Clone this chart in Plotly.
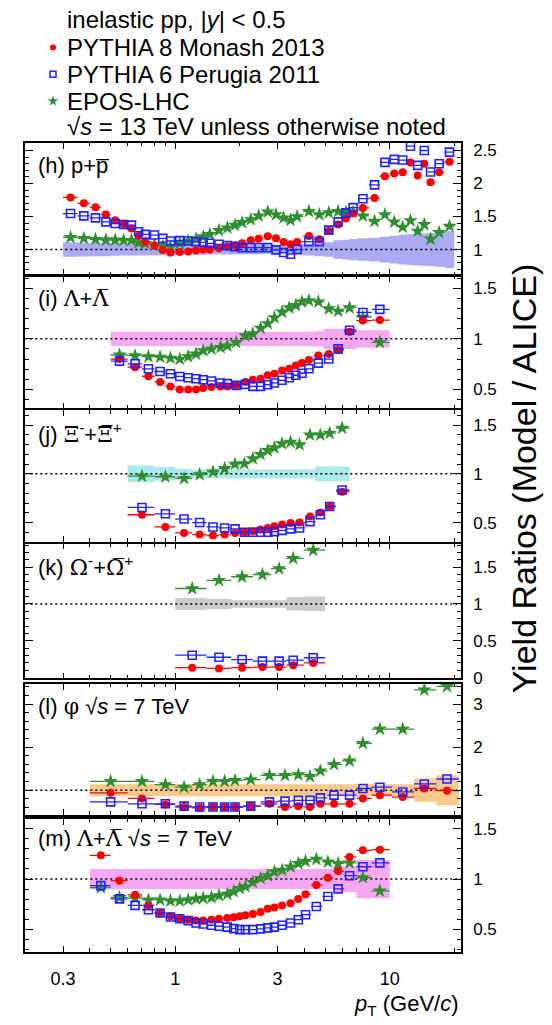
import math
import plotly.graph_objects as go

# ---------------------------------------------------------------
# Model / ALICE yield ratios versus pT
# ---------------------------------------------------------------

# (h) p + pbar, 13 TeV
pt_h = [0.325, 0.375, 0.425, 0.475, 0.525, 0.575, 0.625, 0.675, 0.725, 0.8,
        0.875, 0.95, 1.05, 1.15, 1.25, 1.35, 1.45, 1.6, 1.75, 1.9,
        2.05, 2.25, 2.45, 2.7, 2.95, 3.2, 3.45, 3.7, 4.2, 4.7,
        5.2, 5.75, 6.25, 6.75, 7.5, 8.5, 9.5, 10.5, 11.5, 12.5,
        13.5, 14.5, 15.5, 17.0, 19.0]
span_h = (0.3, 20.0)
p8_h = [1.79, 1.70, 1.64, 1.53, 1.445, 1.385, 1.32, 1.205, 1.12, 1.06,
        0.995, 0.955, 0.965, 0.97, 0.985, 1.0, 1.0, 1.02, 1.045, 1.065,
        1.095, 1.14, 1.165, 1.20, 1.17, 1.115, 1.08, 1.115, 1.205, 1.155,
        1.28, 1.38, 1.47, 1.545, 1.63, 1.78, 2.11, 2.15, 2.17, 2.32,
        2.12, 2.30, 2.02, 2.17, 2.33]
p6_h = [1.545, 1.51, 1.48, 1.42, 1.395, 1.38, 1.37, 1.27, 1.23, 1.22,
        1.17, 1.13, 1.135, 1.13, 1.12, 1.11, 1.095, 1.08, 1.06, 1.045,
        1.03, 1.03, 1.03, 1.03, 0.995, 0.955, 0.93, 1.0, 1.12, 1.12,
        1.295, 1.42, 1.555, 1.635, 1.77, 1.98, 2.32, 2.365, 2.355, 2.565,
        2.275, 2.50, 2.175, 2.30, 2.475]
epos_h = [1.185, 1.17, 1.155, 1.145, 1.145, 1.14, 1.14, 1.105, 1.095, 1.07,
          1.055, 1.045, 1.095, 1.13, 1.16, 1.195, 1.23, 1.29, 1.33, 1.37,
          1.41, 1.455, 1.51, 1.57, 1.53, 1.48, 1.445, 1.50, 1.58, 1.53,
          1.56, 1.58, 1.57, 1.57, 1.51, 1.43, 1.53, 1.42, 1.34, 1.44,
          1.28, 1.38, 1.16, 1.26, 1.355]
sys_h = [0.11, 0.105, 0.10, 0.10, 0.095, 0.09, 0.09, 0.09, 0.09, 0.085,
         0.085, 0.085, 0.08, 0.08, 0.08, 0.08, 0.075, 0.075, 0.075, 0.07,
         0.07, 0.07, 0.07, 0.065, 0.065, 0.065, 0.07, 0.08, 0.09, 0.10,
         0.11, 0.14, 0.15, 0.16, 0.17, 0.18, 0.195, 0.21, 0.225, 0.235,
         0.24, 0.245, 0.25, 0.26, 0.28]

# (i) Lambda + anti-Lambda, 13 TeV
pt_i = [0.55, 0.65, 0.75, 0.85, 0.95, 1.05, 1.15, 1.25, 1.35, 1.475,
        1.625, 1.75, 1.925, 2.125, 2.3, 2.5, 2.7, 2.9, 3.15, 3.4,
        3.65, 3.9, 4.2, 4.65, 5.2, 5.75, 6.5, 7.5, 9.0]
span_i = (0.5, 10.0)
p8_i = [0.80, 0.72, 0.63, 0.574, 0.53, 0.50, 0.50, 0.50, 0.515, 0.525,
        0.53, 0.53, 0.54, 0.574, 0.596, 0.606, 0.64, 0.655, 0.687, 0.704,
        0.736, 0.76, 0.79, 0.834, 0.85, 0.89, 1.07, 1.18, 1.185]
p6_i = [0.78, 0.753, 0.704, 0.677, 0.655, 0.628, 0.616, 0.606, 0.596, 0.584,
        0.564, 0.557, 0.54, 0.55, 0.53, 0.53, 0.547, 0.564, 0.59, 0.616,
        0.64, 0.66, 0.704, 0.76, 0.80, 0.90, 1.085, 1.26, 1.29]
epos_i = [0.84, 0.834, 0.825, 0.82, 0.81, 0.80, 0.825, 0.85, 0.883, 0.90,
          0.916, 0.93, 0.965, 1.03, 1.05, 1.105, 1.15, 1.21, 1.265, 1.307,
          1.33, 1.365, 1.378, 1.365, 1.297, 1.274, 1.307, 1.215, 0.965]
sys_i = [0.07] * 23 + [0.075, 0.10, 0.10, 0.10, 0.085, 0.085]

# (j) Xi- + anti-Xi+, 13 TeV
pt_j = [0.7, 0.9, 1.1, 1.3, 1.5, 1.7, 1.9, 2.1, 2.3, 2.5,
        2.7, 2.9, 3.15, 3.45, 3.8, 4.25, 4.75, 5.25, 6.0]
span_j = (0.6, 6.5)
p8_j = [0.58, 0.455, 0.394, 0.377, 0.367, 0.377, 0.394, 0.40, 0.41, 0.428,
        0.445, 0.461, 0.479, 0.496, 0.50, 0.563, 0.604, 0.665, 0.817]
p6_j = [0.655, 0.59, 0.536, 0.50, 0.455, 0.445, 0.435, 0.40, 0.40, 0.40,
        0.40, 0.407, 0.42, 0.435, 0.445, 0.51, 0.58, 0.665, 0.834]
epos_j = [0.977, 0.97, 0.953, 0.993, 1.02, 1.055, 1.10, 1.105, 1.156, 1.20,
          1.24, 1.268, 1.31, 1.325, 1.30, 1.40, 1.40, 1.417, 1.47]
sys_j = [0.085, 0.07, 0.05, 0.045, 0.045, 0.045, 0.045, 0.045, 0.045, 0.045,
         0.045, 0.045, 0.045, 0.045, 0.045, 0.045, 0.075, 0.075, 0.075]

# (k) Omega- + anti-Omega+, 13 TeV
pt_k = [1.2, 1.6, 2.05, 2.55, 3.05, 3.55, 4.4]
span_k = (1.0, 5.0)
p8_k = [0.135, 0.125, 0.135, 0.143, 0.143, 0.17, 0.20]
p6_k = [0.305, 0.277, 0.246, 0.224, 0.224, 0.237, 0.27]
epos_k = [1.21, 1.32, 1.37, 1.40, 1.48, 1.62, 1.73]
sys_k = [0.08, 0.07, 0.05, 0.05, 0.05, 0.09, 0.10]

# (l) phi, 7 TeV
pt_l = [0.5, 0.7, 0.9, 1.1, 1.3, 1.5, 1.7, 1.9, 2.25, 2.75,
        3.25, 3.75, 4.25, 4.75, 5.5, 6.5, 7.5, 9.0, 11.5, 14.5, 18.5]
span_l = (0.4, 21.0)
p8_l = [0.94, 0.81, 0.67, 0.61, 0.59, 0.61, 0.61, 0.61, 0.63, 0.685,
        0.61, 0.63, 0.61, 0.685, 0.685, 0.685, 0.81, 0.885, 0.84, 1.04, 0.99]
p6_l = [0.73, 0.685, 0.685, 0.63, 0.61, 0.61, 0.61, 0.61, 0.63, 0.73,
        0.747, 0.763, 0.763, 0.823, 0.885, 0.885, 1.04, 1.07, 0.96, 1.145, 1.26]
epos_l = [1.207, 1.207, 1.13, 1.07, 1.13, 1.207, 1.207, 1.23, 1.246, 1.345,
          1.345, 1.36, 1.32, 1.45, 1.60, 1.68, 2.09, 2.42, 2.42, 3.33, 3.41]
sys_l = [0.14] * 19 + [0.27, 0.35]

# (m) Lambda + anti-Lambda, 7 TeV
pt_m = [0.45, 0.55, 0.65, 0.75, 0.85, 0.95, 1.05, 1.15, 1.25, 1.35,
        1.475, 1.6, 1.75, 1.875, 2.0, 2.125, 2.3, 2.5, 2.7, 2.9,
        3.15, 3.45, 3.75, 4.05, 4.55, 5.15, 5.75, 6.5, 7.5, 9.0]
span_m = (0.4, 10.0)
p8_m = [1.236, 0.984, 0.843, 0.738, 0.662, 0.63, 0.606, 0.596, 0.587, 0.587,
        0.596, 0.606, 0.613, 0.62, 0.63, 0.64, 0.652, 0.672, 0.705, 0.718,
        0.738, 0.76, 0.803, 0.85, 0.94, 1.014, 1.079, 1.22, 1.285, 1.292]
p6_m = [0.935, 0.803, 0.738, 0.695, 0.662, 0.623, 0.606, 0.587, 0.564, 0.554,
        0.541, 0.531, 0.522, 0.508, 0.498, 0.498, 0.498, 0.505, 0.515, 0.522,
        0.541, 0.564, 0.596, 0.646, 0.728, 0.827, 0.902, 1.033, 1.122, 1.161]
epos_m = [0.915, 0.817, 0.81, 0.793, 0.793, 0.783, 0.783, 0.793, 0.803, 0.81,
          0.817, 0.836, 0.85, 0.876, 0.908, 0.925, 0.968, 1.007, 1.033, 1.073,
          1.089, 1.122, 1.155, 1.177, 1.197, 1.171, 1.155, 1.161, 1.014, 0.882]
sys_m = [0.1] * 26 + [0.13, 0.13, 0.19, 0.19]

# axis ticks / ranges
x_tick_vals = [0.3, 1, 3, 10]
x_minor_vals = [0.2, 0.4, 0.5, 0.6, 0.7, 0.8, 0.9, 2, 4, 5, 6, 7, 8, 9, 20]
x_span = (0.2, 21.5)

# ---------------------------------------------------------------
# layout constants (pixels)
# ---------------------------------------------------------------
FIG_W, FIG_H = 552, 1025
FRAME_L, FRAME_R = 25.3, 461.0
PANEL_PX = [(143.3, 276.5), (277.5, 411.5), (413.5, 546.0),
            (548.0, 684.0), (689.5, 821.7), (826.0, 960.0)]
Y_RANGES = [(0.618, 2.615), (0.312, 1.622), (0.304, 1.650),
            (-0.009, 1.819), (0.432, 3.471), (0.279, 1.597)]
Y_MAJOR = [[1, 1.5, 2, 2.5], [0.5, 1, 1.5], [0.5, 1, 1.5],
           [0, 0.5, 1, 1.5], [1, 2, 3], [0.5, 1, 1.5]]
Y_MINOR = [0.1, 0.1, 0.1, 0.1, 0.2, 0.1]

SANS = "Liberation Sans, Arial, sans-serif"
GREEK = "DejaVu Serif, Liberation Serif, serif"

C_P8 = "#ff0000"
C_P6 = "#2222ff"
C_EPOS = "#2f8f2f"


def gk(s):
    return '<span style="font-family:%s">%s</span>' % (GREEK, s)


OVL = "\u0305"
panels = [
    dict(pt=pt_h, span=span_h, p8=p8_h, p6=p6_h, epos=epos_h, sys=sys_h,
         fill="#ababf4", label="(h) p+p" + OVL, label_y=166),
    dict(pt=pt_i, span=span_i, p8=p8_i, p6=p6_i, epos=epos_i, sys=sys_i,
         fill="#f6a8f2", label="(i) " + gk("Λ") + "+" + gk("Λ" + OVL), label_y=300),
    dict(pt=pt_j, span=span_j, p8=p8_j, p6=p6_j, epos=epos_j, sys=sys_j,
         fill="#a9eaea",
         label="(j) " + gk("Ξ") + "<sup>-</sup>+" + gk("Ξ" + OVL) + "<sup>+</sup>",
         label_y=436),
    dict(pt=pt_k, span=span_k, p8=p8_k, p6=p6_k, epos=epos_k, sys=sys_k,
         fill="#cbcbcb",
         label="(k) " + gk("Ω") + "<sup>-</sup>+" + gk("Ω" + OVL) + "<sup>+</sup>",
         label_y=571),
    dict(pt=pt_l, span=span_l, p8=p8_l, p6=p6_l, epos=epos_l, sys=sys_l,
         fill="#f9ca8c", label="(l) " + gk("φ") + " √<i>s</i> = 7 TeV", label_y=712),
    dict(pt=pt_m, span=span_m, p8=p8_m, p6=p6_m, epos=epos_m, sys=sys_m,
         fill="#f6a8f2",
         label="(m) " + gk("Λ") + "+" + gk("Λ" + OVL) + " √<i>s</i> = 7 TeV",
         label_y=846),
]


def bin_edges(centers, lo, hi):
    mids = [(a + b) / 2 for a, b in zip(centers[:-1], centers[1:])]
    return [lo] + mids + [hi]


def band_outline(edges, half):
    """Step-shaped outline of the +-half band around unity, one step per bin."""
    xs, ys = [], []
    for i, h in enumerate(half):
        xs += [edges[i], edges[i + 1]]
        ys += [1 + h, 1 + h]
    for i in reversed(range(len(half))):
        xs += [edges[i + 1], edges[i]]
        ys += [1 - half[i], 1 - half[i]]
    xs.append(xs[0])
    ys.append(ys[0])
    return xs, ys


def px_to_paper_y(py):
    return 1 - py / FIG_H


fig = go.Figure()
layout = {}

for k, pan in enumerate(panels, start=1):
    sfx = "" if k == 1 else str(k)
    xa, ya = "x" + sfx, "y" + sfx
    edges = bin_edges(pan["pt"], *pan["span"])
    ex_plus = [e - c for e, c in zip(edges[1:], pan["pt"])]
    ex_minus = [c - e for e, c in zip(edges[:-1], pan["pt"])]

    bx, by = band_outline(edges, pan["sys"])
    fig.add_trace(go.Scatter(x=bx, y=by, mode="lines", fill="toself",
                             fillcolor=pan["fill"], line=dict(width=0, simplify=False),
                             hoverinfo="skip", showlegend=False,
                             xaxis=xa, yaxis=ya))
    fig.add_trace(go.Scatter(x=list(x_span), y=[1, 1], mode="lines",
                             line=dict(color="black", width=1.5, dash="2px,3px"),
                             hoverinfo="skip", showlegend=False,
                             xaxis=xa, yaxis=ya))

    series = [
        (pan["epos"], C_EPOS, dict(symbol="star", size=11, color=C_EPOS, line=dict(width=0))),
        (pan["p8"], C_P8, dict(symbol="circle", size=8, color=C_P8, line=dict(width=0))),
        (pan["p6"], C_P6, dict(symbol="square-open", size=8, color=C_P6, line=dict(width=1.6))),
    ]
    for vals, col, mk in series:
        fig.add_trace(go.Scatter(
            x=pan["pt"], y=vals, mode="markers", marker=mk,
            error_x=dict(type="data", symmetric=False, array=ex_plus,
                         arrayminus=ex_minus, color=col, thickness=1.3, width=0),
            showlegend=False, xaxis=xa, yaxis=ya))

    top_px, bot_px = PANEL_PX[k - 1]
    ydom = [px_to_paper_y(bot_px), px_to_paper_y(top_px)]
    layout["xaxis" + sfx] = dict(
        type="log", range=[math.log10(x_span[0]), math.log10(x_span[1])],
        domain=[FRAME_L / FIG_W, FRAME_R / FIG_W], anchor=ya,
        showline=True, linecolor="black", linewidth=1.6, mirror="allticks",
        ticks="inside", ticklen=6, tickwidth=1, tickcolor="black",
        tickmode="array", tickvals=x_tick_vals,
        ticktext=["%g" % v for v in x_tick_vals],
        showticklabels=(k == len(panels)),
        tickfont=dict(family=SANS, size=18, color="black"),
        ticklabelstandoff=10,
        minor=dict(ticks="inside", ticklen=3.5, tickwidth=1, tickcolor="black",
                   tickmode="array", tickvals=x_minor_vals, showgrid=False),
        showgrid=False, zeroline=False,
        **({} if k == 1 else {"matches": "x"}))
    layout["yaxis" + sfx] = dict(
        range=list(Y_RANGES[k - 1]), domain=ydom, anchor=xa, side="right",
        showline=True, linecolor="black", linewidth=1.6, mirror="allticks",
        ticks="inside", ticklen=8, tickwidth=1, tickcolor="black",
        tickmode="array", tickvals=Y_MAJOR[k - 1],
        ticktext=["%g" % v for v in Y_MAJOR[k - 1]],
        tickfont=dict(family=SANS, size=17, color="black"),
        ticklabelstandoff=7,
        minor=dict(ticks="inside", ticklen=4, tickwidth=1, tickcolor="black",
                   tickmode="linear", tick0=0, dtick=Y_MINOR[k - 1], showgrid=False),
        showgrid=False, zeroline=False)

# full-figure overlay used for the legend keys
layout["xaxis7"] = dict(domain=[0, 1], range=[0, FIG_W], visible=False, anchor="y7")
layout["yaxis7"] = dict(domain=[0, 1], range=[FIG_H, 0], visible=False, anchor="x7")
KEY_X = 53
KEY_ROWS = [47, 74, 101]
key_markers = [
    dict(symbol="circle", size=6, color=C_P8, line=dict(width=0)),
    dict(symbol="square-open", size=6, color=C_P6, line=dict(width=1.5)),
    dict(symbol="star", size=8, color=C_EPOS, line=dict(width=0)),
]
for ky, mk in zip(KEY_ROWS, key_markers):
    fig.add_trace(go.Scatter(x=[KEY_X], y=[ky], mode="markers", marker=mk,
                             hoverinfo="skip", showlegend=False,
                             xaxis="x7", yaxis="y7", cliponaxis=False))

annotations = []
TEXT_X = 65 / FIG_W
legend_lines = [
    (19, "inelastic pp, |<i>y</i>| &lt; 0.5"),
    (47, "PYTHIA 8 Monash 2013"),
    (74, "PYTHIA 6 Perugia 2011"),
    (101, "EPOS-LHC"),
    (127, "√<i>s</i> = 13 TeV unless otherwise noted"),
]
for py, txt in legend_lines:
    annotations.append(dict(x=TEXT_X, y=px_to_paper_y(py), xref="paper", yref="paper",
                            text=txt, showarrow=False, xanchor="left", yanchor="middle",
                            font=dict(family=SANS, size=24, color="black")))

for pan in panels:
    annotations.append(dict(x=36 / FIG_W, y=px_to_paper_y(pan["label_y"]),
                            xref="paper", yref="paper", text=pan["label"],
                            showarrow=False, xanchor="left", yanchor="middle",
                            font=dict(family=SANS, size=22, color="black")))

annotations.append(dict(x=524 / FIG_W, y=px_to_paper_y(482), xref="paper", yref="paper",
                        text="Yield Ratios (Model / ALICE)", textangle=-90,
                        showarrow=False, xanchor="center", yanchor="middle",
                        font=dict(family=SANS, size=34, color="black")))
annotations.append(dict(x=FRAME_R / FIG_W, y=px_to_paper_y(1014), xref="paper", yref="paper",
                        text="<i>p</i><sub>T</sub> (GeV/<i>c</i>)",
                        showarrow=False, xanchor="right", yanchor="middle",
                        font=dict(family=SANS, size=22, color="black")))

fig.update_layout(
    width=FIG_W, height=FIG_H,
    margin=dict(l=0, r=0, t=0, b=0, pad=0),
    paper_bgcolor="white", plot_bgcolor="rgba(0,0,0,0)",
    font=dict(family=SANS, color="black"),
    showlegend=False,
    annotations=annotations,
    **layout)

fig.write_html("out.html", config={"displayModeBar": False})
